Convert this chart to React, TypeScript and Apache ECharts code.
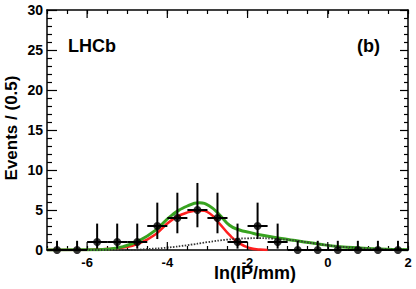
import React, { useEffect, useRef } from "react";
import * as echarts from "echarts";

// Histogram (bin centres, width 0.5)
const binCenters = [-6.75, -6.25, -5.75, -5.25, -4.75, -4.25, -3.75, -3.25, -2.75, -2.25, -1.75, -1.25, -0.75, -0.25, 0.25, 0.75, 1.25, 1.75];
const counts = [0, 0, 1, 1, 1, 3, 4, 5, 4, 1, 3, 1, 0, 0, 0, 0, 0, 0];
const errLower = [0, 0, 0.17, 0.17, 0.17, 1.37, 2.09, 2.84, 2.09, 0.17, 1.37, 0.17, 0, 0, 0, 0, 0, 0];
const errUpper = [1.15, 1.15, 3.3, 3.3, 3.3, 5.92, 7.16, 8.38, 7.16, 3.3, 5.92, 3.3, 1.15, 1.15, 1.15, 1.15, 1.15, 1.15];
const binHalfWidth = 0.25;

// Fit curves
const totalX = [-7, -6, -5.5, -5.1, -4.7, -4.3, -3.9, -3.5, -3.2, -2.95, -2.7, -2.45, -2.2, -1.95, -1.7, -1.2, -0.7, -0.2, 0.3, 0.8, 1.3, 1.8, 2];
const totalY = [0, 0.02, 0.1, 0.42, 1.17, 2.45, 4.3, 5.5, 5.9, 5.5, 4.4, 3.1, 2.5, 2.2, 1.9, 1.46, 1.1, 0.72, 0.42, 0.25, 0.12, 0.05, 0.03];
const signalX = [-7, -6.2, -5.8, -5.5, -5.1, -4.7, -4.3, -3.9, -3.5, -3.2, -2.95, -2.7, -2.45, -2.2, -1.95, -1.7, -1.5];
const signalY = [0, 0.01, 0.05, 0.12, 0.3, 0.83, 1.95, 3.7, 4.7, 4.95, 4.6, 3.3, 1.88, 0.83, 0.25, 0.05, 0];
const bkgX = [-7, -5, -4.5, -4, -3.5, -3, -2.5, -2, -1.7, -1.4, -1, -0.7, -0.2, 0.3, 0.8, 1.3, 2];
const bkgY = [0, 0, 0.12, 0.3, 0.6, 0.98, 1.3, 1.46, 1.48, 1.42, 1.27, 1.1, 0.72, 0.42, 0.25, 0.12, 0.03];

const xMajorTicks = [-6, -4, -2, 0, 2];
const xMin = -7, xMax = 2, yMin = 0, yMax = 30;

const FONT = "'Liberation Sans', Arial, Helvetica, sans-serif";

export default function App() {
  const ref = useRef<HTMLDivElement>(null);
  useEffect(() => {
    if (!ref.current) return;
    const chart = echarts.init(ref.current, undefined, { renderer: "svg" });
    const zip = (xs: number[], ys: number[]) => xs.map((x, i) => [x, ys[i]]);
    const axisLine = { show: true, onZero: false, lineStyle: { color: "#000", width: 1.5 } };
    const option: any = {
      animation: false,
      grid: { left: 47, right: 8, top: 10, bottom: 39, containLabel: false },
      xAxis: [
        {
          type: "value", min: xMin, max: xMax, interval: 0.5, position: "bottom",
          axisLine,
          axisTick: { show: true, inside: true, length: 4, lineStyle: { color: "#000", width: 1.2 } },
          axisLabel: {
            margin: 6, color: "#000", fontSize: 13, fontWeight: "bold", fontFamily: FONT,
            formatter: (v: number) => (Math.abs(v % 2) < 1e-9 ? String(v) : ""),
          },
          splitLine: { show: false },
        },
        {
          type: "value", min: xMin, max: xMax, interval: 0.5, position: "top",
          axisLine,
          axisTick: { show: true, inside: true, length: 4, lineStyle: { color: "#000", width: 1.2 } },
          axisLabel: { show: false },
          splitLine: { show: false },
        },
      ],
      yAxis: [
        {
          type: "value", min: yMin, max: yMax, interval: 5, position: "left",
          axisLine,
          axisTick: { show: true, inside: true, length: 10, lineStyle: { color: "#000", width: 1.2 } },
          minorTick: { show: true, splitNumber: 5, length: 5, lineStyle: { color: "#000", width: 1.2 } },
          axisLabel: { margin: 4, color: "#000", fontSize: 14, fontWeight: "bold", fontFamily: FONT },
          splitLine: { show: false },
        },
        {
          type: "value", min: yMin, max: yMax, interval: 5, position: "right",
          axisLine,
          axisTick: { show: true, inside: true, length: 8, lineStyle: { color: "#000", width: 1.2 } },
          minorTick: { show: true, splitNumber: 5, length: 4, lineStyle: { color: "#000", width: 1.2 } },
          axisLabel: { show: false },
          splitLine: { show: false },
        },
      ],
      series: [
        {
          type: "line", data: zip(signalX, signalY), smooth: true, showSymbol: false,
          lineStyle: { color: "#ff1f1f", width: 2.5 }, z: 2,
        },
        {
          type: "line", data: zip(totalX, totalY), smooth: true, showSymbol: false,
          lineStyle: { color: "#38a320", width: 3 }, z: 3,
        },
        {
          type: "line", data: zip(bkgX, bkgY), smooth: true, showSymbol: false,
          lineStyle: { color: "#333", width: 1.8, type: [1.5, 1.5] }, z: 4,
        },
        {
          type: "custom", z: 5, silent: true,
          data: binCenters.map((x, i) => [x, counts[i], errLower[i], errUpper[i]]),
          renderItem: (params: any, api: any) => {
            const x = api.value(0), y = api.value(1), lo = api.value(2), hi = api.value(3);
            const c = api.coord([x, y]);
            const pLo = api.coord([x, lo]);
            const pHi = api.coord([x, hi]);
            const pL = api.coord([x - binHalfWidth, y]);
            const pR = api.coord([x + binHalfWidth, y]);
            const st = { stroke: "#000", lineWidth: 2 };
            return {
              type: "group",
              children: [
                { type: "line", shape: { x1: c[0], y1: pLo[1], x2: c[0], y2: pHi[1] }, style: st },
                { type: "line", shape: { x1: pL[0], y1: c[1], x2: pR[0], y2: c[1] }, style: st },
              ],
            };
          },
        },
        {
          type: "scatter", data: zip(binCenters, counts), symbol: "circle", symbolSize: 8,
          itemStyle: { color: "#000" }, z: 6, silent: true,
        },
        {
          type: "custom", z: 7, silent: true,
          data: xMajorTicks.map((x) => [x]),
          renderItem: (params: any, api: any) => {
            const x = api.value(0);
            const b = api.coord([x, yMin]);
            const t = api.coord([x, yMax]);
            const st = { stroke: "#000", lineWidth: 1.2 };
            return {
              type: "group",
              children: [
                { type: "line", shape: { x1: b[0], y1: b[1], x2: b[0], y2: b[1] - 8 }, style: st },
                { type: "line", shape: { x1: t[0], y1: t[1], x2: t[0], y2: t[1] + 8 }, style: st },
              ],
            };
          },
        },
      ],
      graphic: [
        {
          type: "text", x: 255, y: 273,
          style: { text: "ln(IP/mm)", font: `bold 18px ${FONT}`, fill: "#000", align: "center", verticalAlign: "middle", textAlign: "center", textVerticalAlign: "middle" },
        },
        {
          type: "text", x: 11, y: 128, rotation: Math.PI / 2,
          style: { text: "Events / (0.5)", font: `bold 17px ${FONT}`, fill: "#000", align: "center", verticalAlign: "middle", textAlign: "center", textVerticalAlign: "middle" },
        },
        {
          type: "text", x: 68, y: 46,
          style: { text: "LHCb", font: `bold 18px ${FONT}`, fill: "#000", align: "left", verticalAlign: "middle", textAlign: "left", textVerticalAlign: "middle" },
        },
        {
          type: "text", x: 357, y: 46,
          style: { text: "(b)", font: `bold 18px ${FONT}`, fill: "#000", align: "left", verticalAlign: "middle", textAlign: "left", textVerticalAlign: "middle" },
        },
      ],
    };
    chart.setOption(option);
    return () => chart.dispose();
  }, []);
  return (
    <div
      ref={ref}
      style={{ position: "fixed", left: 0, top: 0, width: 416, height: 289, background: "#fff" }}
    />
  );
}
